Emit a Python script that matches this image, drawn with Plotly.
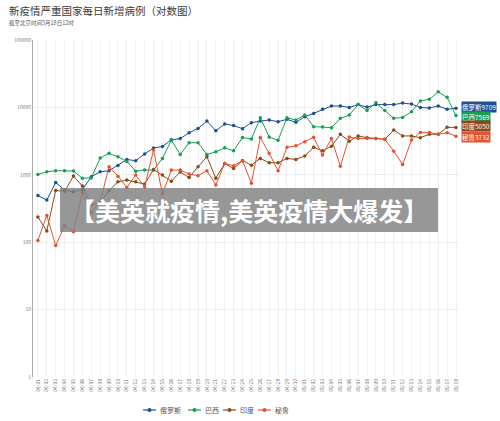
import plotly.graph_objects as go
import math

dates = ["04/%02d" % d for d in range(1, 31)] + ["05/%02d" % d for d in range(1, 19)]

russia = [493, 421, 770, 593, 560, 605, 933, 1110, 1150, 1375, 1690, 1615, 2040, 2490, 2630, 3300,
          3450, 4200, 4880, 6260, 4500, 5680, 5370, 4830, 5940, 6270, 6500, 6140, 6650, 6000, 7280, 8150,
          9380, 10500, 10500, 10000, 11000, 10100, 11000, 11000, 11000, 11600, 11200, 10000, 9800, 10500, 9400, 9709]
brazil = [1010, 1110, 1150, 1150, 1140, 890, 900, 1770, 2080, 1850, 1580, 1130, 1175, 1175, 1750, 3250,
          2000, 2990, 2990, 2000, 2190, 2510, 2270, 3570, 3400, 7030, 3630, 3250, 7030, 6500, 7710, 5180,
          5130, 5010, 6880, 7710, 11000, 9020, 11700, 9000, 6880, 7110, 8630, 12450, 13200, 17000, 14100, 7569]
india = [237, 147, 585, 567, 960, 681, 356, 385, 585, 787, 834, 787, 728, 1200, 990, 805,
         1100, 910, 1320, 1850, 890, 1470, 1240, 1620, 1390, 1750, 1510, 1510, 1750, 1690, 1900, 2560,
         2270, 2660, 3980, 3150, 3770, 3550, 3470, 3360, 4620, 3770, 3770, 3550, 4000, 4000, 5060, 5050]
peru = [106, 250, 89, 175, 143, 545, 272, 400, 1315, 955, 650, 990, 667, 2330, 520, 1175,
        1175, 1025, 970, 1150, 708, 1470, 1360, 1620, 747, 3570, 2080, 1150, 2560, 2700, 3090, 3600,
        1960, 3470, 1340, 3630, 3450, 3450, 3470, 3360, 2240, 1420, 3280, 4260, 4260, 3980, 4200, 3732]

names = ["俄罗斯", "巴西", "印度", "秘鲁"]
colors = ["#1d4f91", "#1a9e55", "#8a4a16", "#e4532e"]
series = [russia, brazil, india, peru]
label_shift = [1.5, -1.5, 1, -1]

FONT = "Noto Sans CJK SC"
L, R, T, B = 33, 40, 40, 44
PW, PH = 500 - L - R, 421 - T - B

def px(x):
    return (x - L) / PW

def py(y):
    return (421 - B - y) / PH

fig = go.Figure()
for n, c, s in zip(names, colors, series):
    fig.add_trace(go.Scatter(x=dates, y=s, name=n, mode="lines+markers", showlegend=False,
                             line=dict(color=c, width=1), marker=dict(color=c, size=3.5)))

# end labels
for n, c, s, sh in zip(names, colors, series, label_shift):
    fig.add_annotation(x=dates[-1], y=math.log10(s[-1]), text="%s%d" % (n, s[-1]),
                       xanchor="left", xshift=5, yshift=sh, showarrow=False,
                       font=dict(color="white", size=6.5, family=FONT),
                       bgcolor=c, borderpad=0)

# title and subtitle
fig.add_annotation(text="新疫情严重国家每日新增病例（对数图）", xref="paper", yref="paper",
                   x=px(7), y=py(10), xanchor="left", yanchor="middle", showarrow=False,
                   font=dict(size=10.5, color="#3a3a3a", family=FONT))
fig.add_annotation(text="截至北京时间5月18日12时", xref="paper", yref="paper",
                   x=px(7), y=py(23), xanchor="left", yanchor="middle", showarrow=False,
                   font=dict(size=5.5, color="#555", family=FONT))

# manual legend
leg_x = [155, 200, 235, 270]
for n, c, lx in zip(names, colors, leg_x):
    fig.add_shape(type="line", xref="paper", yref="paper", x0=px(lx - 12), x1=px(lx + 1),
                  y0=py(410), y1=py(410), line=dict(color=c, width=1.2))
    fig.add_shape(type="circle", xref="paper", yref="paper", x0=px(lx - 7.5), x1=px(lx - 3.5),
                  y0=py(412), y1=py(408), fillcolor=c, line=dict(width=0))
    fig.add_annotation(text=n, xref="paper", yref="paper", x=px(lx + 3), y=py(410),
                       xanchor="left", yanchor="middle", showarrow=False,
                       font=dict(size=7, color="#555", family=FONT))

# banner
fig.add_shape(type="rect", xref="paper", yref="paper", x0=px(60), x1=px(438),
              y0=py(232), y1=py(188), fillcolor="rgba(128,128,128,0.82)", line=dict(width=0),
              layer="above")
fig.add_annotation(text="<b>【美英就疫情,美英疫情大爆发】</b>", xref="paper", yref="paper",
                   x=px(249), y=py(210), showarrow=False,
                   font=dict(color="white", size=25, family=FONT))

fig.update_layout(
    width=500, height=421, margin=dict(l=L, r=R, t=T, b=B),
    paper_bgcolor="white", plot_bgcolor="white",
    font=dict(family=FONT, color="#666"),
    showlegend=False,
    xaxis=dict(type="category", range=[-0.55, 47.45], tickangle=-90, tickfont=dict(size=5, color="#777"),
               showgrid=True, gridcolor="#f0f0f0", gridwidth=1, showline=False, ticks=""),
    yaxis=dict(type="log", range=[0, 5], tickvals=[1, 10, 100, 1000, 10000, 100000],
               ticktext=["1", "10", "100", "1000", "10000", "100000"],
               tickfont=dict(size=5, color="#777"), showgrid=True, gridcolor="#eeeeee",
               showline=True, linecolor="#aaaaaa", linewidth=1, ticks="", zeroline=False),
)
fig.write_html("out.html")
